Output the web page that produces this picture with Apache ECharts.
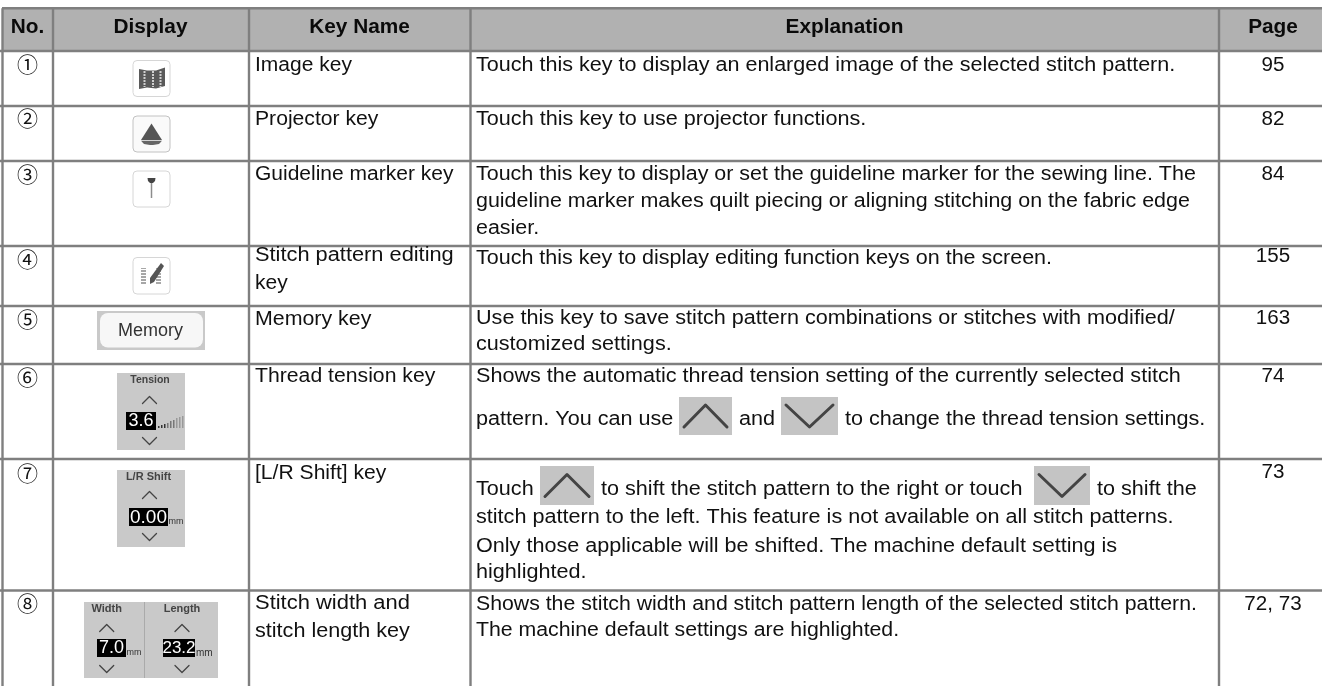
<!DOCTYPE html>
<html><head><meta charset="utf-8">
<style>html,body{margin:0;padding:0;background:#fff;overflow:hidden}#c{width:1322px;height:686px}</style>
<script src="https://cdn.jsdelivr.net/npm/echarts@6/dist/echarts.min.js"></script>
</head><body><div id="c"></div>
<script>
// ---- table content ----
const headers = ['No.', 'Display', 'Key Name', 'Explanation', 'Page'];
const numbers = ['①','②','③','④','⑤','⑥','⑦','⑧'];
const keyNames = [
  ['Image key'], ['Projector key'], ['Guideline marker key'],
  ['Stitch pattern editing','key'], ['Memory key'], ['Thread tension key'],
  ['[L/R Shift] key'], ['Stitch width and','stitch length key']
];
const explanations = [
  ['Touch this key to display an enlarged image of the selected stitch pattern.'],
  ['Touch this key to use projector functions.'],
  ['Touch this key to display or set the guideline marker for the sewing line. The','guideline marker makes quilt piecing or aligning stitching on the fabric edge','easier.'],
  ['Touch this key to display editing function keys on the screen.'],
  ['Use this key to save stitch pattern combinations or stitches with modified/','customized settings.'],
  ['Shows the automatic thread tension setting of the currently selected stitch','pattern. You can use','and','to change the thread tension settings.'],
  ['Touch','to shift the stitch pattern to the right or touch','to shift the','stitch pattern to the left. This feature is not available on all stitch patterns.','Only those applicable will be shifted. The machine default setting is','highlighted.'],
  ['Shows the stitch width and stitch pattern length of the selected stitch pattern.','The machine default settings are highlighted.']
];
const pages = ['95','82','84','155','163','74','73','72, 73'];
const displayLabels = {memory:'Memory', tension:['Tension','3.6'], shift:['L/R Shift','0.00','mm'], width:['Width','7.0','mm'], length:['Length','23.2','mm']};

// ---- layout (table grid in canvas units) ----
const colLines = [2.5, 53, 249, 470.5, 1219];
const rowLines = [8.3, 51, 106, 161, 246, 306, 364, 459, 590.5];
const headerCenters = [27.5, 150.5, 359.5, 844.5, 1273];
const cellX = {no:27.5, key:255, exp:476, page:1273};
const keyBase = [[72.7],[126],[181],[262.5,290],[326],[383],[480],[610.7,638.5]];
const keyStretch = [[1.05],[1.057],[1.05],[1.09,1.05],[1.068],[1.06],[1.055],[1.097,1.08]];
const expBase = [[72.7],[126],[181,208,235],[265],[325,351],[383,426,426,426],[496,496,496,524,553,579],[611,637]];
const expX = {5:[476,739,845], 6:[476,601,1097]};
const numCenter = [64.5,118,174,259.3,319.3,377.3,473.2,602.7];
const pageBase = [72.7,126,181,263,325,383,479,611];
const expStretch = [1.077,1.08,1.072,1.075,1.08,1.08,1.08,1.063];

const FONT = '"Liberation Sans", Arial, Helvetica, sans-serif';
const INK = '#111';
const LINE = '#7f7f7f';
const BASE_SHIFT = 7; // alphabetic baseline to em-box middle at 20px

// text rows: x, y, text, font, align, colour, horizontal stretch
const textRows = [];
headers.forEach((h,i)=>textRows.push([headerCenters[i],34.7-BASE_SHIFT,h,'bold 20px '+FONT,'center','#0a0a0a',1.04]));
numbers.forEach((n,i)=>textRows.push([cellX.no,numCenter[i],n,'21px "Noto Sans CJK JP"','center',INK,1]));
keyNames.forEach((ls,i)=>ls.forEach((t,j)=>textRows.push([cellX.key,keyBase[i][j]-BASE_SHIFT,t,'20px '+FONT,'left',INK,keyStretch[i][j]])));
explanations.forEach((ls,i)=>ls.forEach((t,j)=>{
  let x = cellX.exp;
  if (i===5 && j>=1) x = expX[5][j-1];
  if (i===6 && j<=2) x = expX[6][j];
  textRows.push([x,expBase[i][j]-BASE_SHIFT,t,'20px '+FONT,'left',INK,expStretch[i]]);
}));
pages.forEach((p,i)=>textRows.push([cellX.page,pageBase[i]-BASE_SHIFT,p,'20px '+FONT,'center',INK,1.03]));

const rect=(c,x0,y0,x1,y1,style,r)=>{const a=c([x0,y0]),b=c([x1,y1]);return {type:'rect',shape:{x:a[0],y:a[1],width:b[0]-a[0],height:b[1]-a[1],r:r||0},style};};
const poly=(c,pts,style,open)=>({type:open?'polyline':'polygon',shape:{points:pts.map(c)},style});
const txt=(c,x,y,t,font,fill,align)=>{const a=c([x,y]);return {type:'text',style:{x:a[0],y:a[1],text:t,font,fill,textAlign:align||'center',textVerticalAlign:'middle'}};};

function chevron(c,cx,cy,hw,hh,up,col,w){
  const d=up?1:-1;
  return poly(c,[[cx-hw,cy+d*hh],[cx,cy-d*hh],[cx+hw,cy+d*hh]],{stroke:col,lineWidth:w,fill:'none',lineCap:'round',lineJoin:'round'},true);
}
function keyBox(c,y0,y1,stroke,fill){return rect(c,133,y0,170,y1,{fill:fill||'#fff',stroke:stroke||'#d6d6d6',lineWidth:1},4);}
const GREY='#c9c9c9';
function field(c,x0,x1,y0,y1,val,boxFs){
  return [rect(c,x0,y0,x1,y1,{fill:'#000'}),txt(c,(x0+x1)/2,(y0+y1)/2+0.5,val,boxFs+'px '+FONT,'#fff')];
}
const iconDrawers = [
  c=>{ const out=[keyBox(c,60.5,96.5),
      poly(c,[[139,69],[147,70.5],[156,70.5],[165,67.5],[165,86],[156,88.5],[147,87.5],[139,89]],{fill:'#5a5a5a'})];
      [[144.5],[153],[160.5]].forEach(v=>out.push({type:'line',shape:{x1:c([v[0],70])[0],y1:c([0,71])[1],x2:c([v[0],70])[0],y2:c([0,87])[1]},style:{stroke:'#cfcfcf',lineWidth:2,lineDash:[2,1]}}));
      return out; },
  c=>[keyBox(c,116,152,'#c2c2c2','#fafafa'),
      poly(c,[[151.5,123.5],[141,140],[162,140]],{fill:'#555'}),
      poly(c,[[141,140.8],[162,140.8],[159,144],[153,145],[150,145],[144,144]],{fill:'#666'})],
  c=>[keyBox(c,171,207),
      poly(c,[[147.5,178],[155.5,178],[155,181],[153,183],[150,183],[148,181]],{fill:'#444'}),
      {type:'line',shape:{x1:c([151.5,0])[0],y1:c([0,183])[1],x2:c([151.5,0])[0],y2:c([0,198])[1]},style:{stroke:'#8c8c8c',lineWidth:1.5}}],
  c=>{const out=[keyBox(c,257.5,294)];
      [[141,146],[156,161]].forEach(r=>{out.push(rect(c,r[0],268,r[1],284,{fill:'#8a8a8a',opacity:.75}));
        for(let y=269;y<284;y+=3) out.push(rect(c,r[0],y,r[1],y+1,{fill:'#fff'}));});
      out.push(poly(c,[[161,263],[164,266],[154,282],[150,284],[150,278]],{fill:'#555'}));
      return out;},
  c=>[rect(c,97,311,205,350,{fill:GREY}),rect(c,100,313,203,347.5,{fill:'#f7f7f7'},8),
      txt(c,150.5,331.3,displayLabels.memory,'18px '+FONT,'#333')],
  c=>{const L=displayLabels.tension;const out=[rect(c,117,373,185,450,{fill:GREY}),
      txt(c,150,380,L[0],'bold 10.5px '+FONT,'#444'),
      chevron(c,149.5,400,7,3.5,true,'#444',1.3),...field(c,126,156,412,430,L[1],18),chevron(c,149.5,441,7,3.5,false,'#444',1.3)];
      [[158,2],[161,3],[164,4],[167,5],[170,7],[173,8],[176,10],[179,11],[182,12]].forEach((b,i)=>out.push(rect(c,b[0],428-b[1],b[0]+1.5,428,{fill:i<3?'#333':(i<6?'#777':'#999')})));
      return out;},
  c=>{const L=displayLabels.shift;return [rect(c,117,470,185,547,{fill:GREY}),
      txt(c,148.5,477,L[0],'bold 11px '+FONT,'#444'),
      chevron(c,149.5,495,7,3.5,true,'#444',1.3),...field(c,129,168,508,526,L[1],19),
      txt(c,168.5,522,L[2],'9px '+FONT,'#333','left'),chevron(c,149.5,537,7,3.5,false,'#444',1.3)];},
  c=>{const W=displayLabels.width,H=displayLabels.length;return [rect(c,84,602,218,678,{fill:GREY}),
      rect(c,144,602,145,678,{fill:'#aaa'}),
      txt(c,106.7,609,W[0],'bold 11px '+FONT,'#444'),txt(c,182,609,H[0],'bold 11px '+FONT,'#444'),
      chevron(c,106.7,628,7,3.5,true,'#444',1.3),chevron(c,182,628,7,3.5,true,'#444',1.3),
      ...field(c,97,126,639,657,W[1],18),...field(c,163,195,639,657,H[1],17),
      txt(c,126.5,653,W[2],'9px '+FONT,'#333','left'),txt(c,196,653,H[2],'10px '+FONT,'#333','left'),
      chevron(c,106.7,669,7,3.5,false,'#444',1.3),chevron(c,182,669,7,3.5,false,'#444',1.3)];}
];
const inlineIcons = [
  {box:[679,397,732,435],up:true},{box:[781,397,838,435],up:false},
  {box:[540,466,594,505],up:true},{box:[1034,466,1090,505],up:false}
];

const chart = echarts.init(document.getElementById('c'),null,{renderer:'canvas'});
const hiddenAxis=(max,inverse)=>({type:'value',min:0,max,inverse,show:false});
chart.setOption({
  animation:false,
  grid:{left:0,right:0,top:0,bottom:0},
  xAxis:hiddenAxis(1322,false),
  yAxis:hiddenAxis(686,true),
  tooltip:{show:false},
  series:[
    {type:'custom',coordinateSystem:'cartesian2d',silent:true,clip:false,z:1,data:[[0]],encode:{x:0},
     renderItem:(p,api)=>{
       const c=v=>api.coord(v);
       const ch=[rect(c,2,rowLines[0],1322,rowLines[1],{fill:'#b1b1b1'})];
       rowLines.forEach((y,i)=>ch.push(rect(c,i===0?2:0,y-1.2,1322,y+1.2,{fill:LINE})));
       colLines.forEach(x=>ch.push(rect(c,x-1.2,rowLines[0],x+1.2,686,{fill:LINE})));
       return {type:'group',children:ch};
     }},
    {type:'custom',coordinateSystem:'cartesian2d',silent:true,clip:false,z:2,data:iconDrawers.map((d,i)=>[i]),encode:{x:0},
     renderItem:(p,api)=>({type:'group',children:iconDrawers[p.dataIndex](v=>api.coord(v))})},
    {type:'custom',coordinateSystem:'cartesian2d',silent:true,clip:false,z:2,data:inlineIcons.map((d,i)=>[i]),encode:{x:0},
     renderItem:(p,api)=>{
       const c=v=>api.coord(v), d=inlineIcons[p.dataIndex], b=d.box;
       const cx=(b[0]+b[2])/2, cy=(b[1]+b[3])/2;
       return {type:'group',children:[rect(c,b[0],b[1],b[2],b[3],{fill:'#c4c4c4'}),
         chevron(c,cx,cy,(b[2]-b[0])/2-5,11,d.up,'#444',3)]};
     }},
    {type:'custom',coordinateSystem:'cartesian2d',silent:true,clip:false,z:3,data:textRows.map(r=>[r[0],r[1]]),encode:{x:0,y:1},
     renderItem:(p,api)=>{
       const r=textRows[p.dataIndex], a=api.coord([r[0],r[1]]);
       return {type:'text',x:a[0],y:a[1],scaleX:r[6],style:{x:0,y:0,text:r[2],font:r[3],textAlign:r[4],textVerticalAlign:'middle',fill:r[5]}};
     }}
  ]
});
</script></body></html>
